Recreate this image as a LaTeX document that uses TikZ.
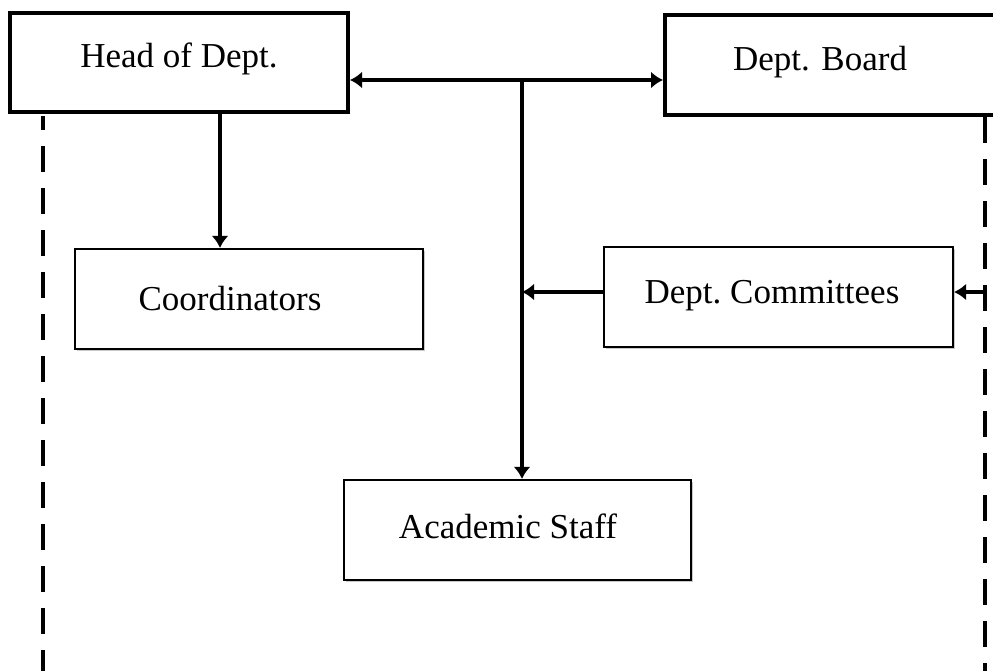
\documentclass[tikz,border=0pt]{standalone}
\usepackage{fontspec}
\setmainfont{Liberation Serif}
\usetikzlibrary{arrows.meta,shadows}
\begin{document}
\begin{tikzpicture}[x=1pt,y=1pt,
  every node/.style={font=\fontsize{35}{40}\selectfont},
  thickbox/.style={draw, line width=4pt, rectangle, fill=white, inner sep=0pt,
    drop shadow={shadow xshift=1.5pt, shadow yshift=-1.5pt, fill=gray!60, opacity=0.7}},
  thinbox/.style={draw, line width=2.2pt, rectangle, fill=white, inner sep=0pt,
    drop shadow={shadow xshift=1.5pt, shadow yshift=-1.5pt, fill=gray!60, opacity=0.7}},
  lbl/.style={inner sep=0pt},
  arr/.style={line width=3.8pt, -{Latex[length=12pt,width=17pt]}},
  dashline/.style={line width=3.5pt, dash pattern=on 26pt off 16pt}]
\useasboundingbox (0,0) rectangle (993,-670);
\clip (0,0) rectangle (993,-670);
% boxes
\node[thickbox, minimum width=338pt, minimum height=99pt] (head) at (179,-62.5) {};
\node[lbl] (headtxt) at (179,-59) {Head of Dept.};
\node[thickbox, minimum width=345pt, minimum height=100pt] (board) at (837.5,-65) {};
\node[lbl] (boardtxt) at (820,-62) {Dept. Board};
\node[thinbox, minimum width=348pt, minimum height=100pt] (coord) at (249,-299) {};
\node[lbl] (coordtxt) at (230,-299) {Coordinators};
\node[thinbox, minimum width=349pt, minimum height=100pt] (comm) at (778.5,-297) {};
\node[lbl] (commtxt) at (772,-296) {Dept.~Committees};
\node[thinbox, minimum width=347pt, minimum height=100pt] (acad) at (517.5,-530) {};
\node[lbl] (acadtxt) at (508,-526) {Academic Staff};
% coordinates
\coordinate (hj) at (522,-80);
\coordinate (hx) at (220,-180);
\coordinate (cj) at (522,-292);
\coordinate (rarr) at (985,-292);
\coordinate (ltop) at (43,-116);
\coordinate (lbot) at (43,-672);
\coordinate (rtop) at (985,-117);
\coordinate (rbot) at (985,-672);
% connectors
\draw[arr] (hj) -- (head.east |- hj);
\draw[arr] (hj) -- (board.west |- hj);
\draw[arr] (hj) -- (acad.north -| hj);
\draw[arr] (head.south -| hx) -- (coord.north -| hx);
\draw[arr] (comm.west |- cj) -- (cj);
\draw[arr] (rarr) -- (comm.east |- rarr);
% dashed lines
\draw[dashline, dash phase=12pt] (ltop) -- (lbot);
\draw[dashline] (rtop) -- (rbot);
\end{tikzpicture}
\end{document}
